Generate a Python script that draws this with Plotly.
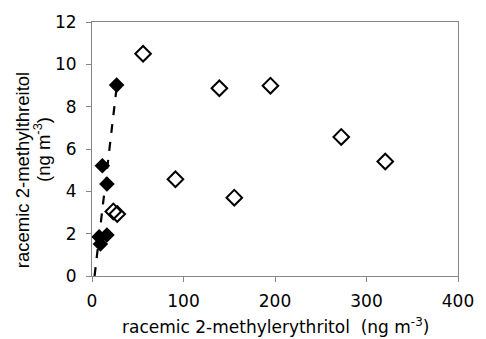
import plotly.graph_objects as go

filled_x = [26.9, 11.3, 16.3, 16.3, 7.8, 9.2]
filled_y = [9.02, 5.21, 4.35, 1.94, 1.85, 1.51]
open_x = [55.8, 139.2, 195.0, 272.4, 320.5, 91.2, 155.5, 23.3, 27.6]
open_y = [10.5, 8.87, 8.99, 6.57, 5.41, 4.57, 3.70, 3.05, 2.93]
trend_x = [2.8, 26.9]
trend_y = [0.0, 8.9]

x_ticks = [0, 100, 200, 300, 400]
y_ticks = [0, 2, 4, 6, 8, 10, 12]

x_title = "racemic 2-methylerythritol&nbsp; (ng m<sup>-3</sup>)"
y_title_1 = "racemic 2-methylthreitol"
y_title_2 = "(ng m<sup>-3</sup>)"

W, H = 486, 339
ML, MR, MT, MB = 92, 17, 17, 63
PW, PH = W - ML - MR, H - MT - MB


def px_x(p):
    return (p - ML) / PW


def px_y(p):
    return (H - MB - p) / PH


fig = go.Figure()
fig.add_trace(go.Scatter(x=trend_x, y=trend_y, mode="lines",
                         line=dict(color="black", width=2.2, dash="dash"),
                         showlegend=False, hoverinfo="skip"))
fig.add_trace(go.Scatter(x=open_x, y=open_y, mode="markers",
                         marker=dict(symbol="diamond-open", size=12,
                                     color="black", line=dict(width=2, color="black")),
                         showlegend=False))
fig.add_trace(go.Scatter(x=filled_x, y=filled_y, mode="markers",
                         marker=dict(symbol="diamond", size=12, color="black",
                                     line=dict(width=0)),
                         showlegend=False))

tick_font = dict(family="DejaVu Sans", size=17, color="black")
axis_common = dict(showgrid=False, zeroline=False, showline=True, linecolor="#868686",
                   linewidth=1, mirror=True, ticks="outside", ticklen=5,
                   tickcolor="#868686", tickfont=tick_font)

fig.update_xaxes(range=[0, 400], tickvals=x_ticks, ticklabelstandoff=5, **axis_common)
fig.update_yaxes(range=[0, 12], tickvals=y_ticks, ticklabelstandoff=6, **axis_common)

fig.add_annotation(text=x_title, xref="paper", yref="paper",
                   x=px_x(281), y=px_y(327), xanchor="center", yanchor="middle",
                   showarrow=False,
                   font=dict(family="DejaVu Sans", size=17, color="black"))
fig.add_annotation(text=y_title_1, xref="paper", yref="paper",
                   x=px_x(20), y=px_y(168), xanchor="center", yanchor="middle",
                   textangle=-90, showarrow=False,
                   font=dict(family="Liberation Sans", size=18.5, color="black"))
fig.add_annotation(text=y_title_2, xref="paper", yref="paper",
                   x=px_x(41), y=px_y(147), xanchor="center", yanchor="middle",
                   textangle=-90, showarrow=False,
                   font=dict(family="Liberation Sans", size=18.5, color="black"))

fig.update_layout(width=W, height=H, margin=dict(l=ML, r=MR, t=MT, b=MB),
                  plot_bgcolor="white", paper_bgcolor="white")
fig.write_html("out.html")
